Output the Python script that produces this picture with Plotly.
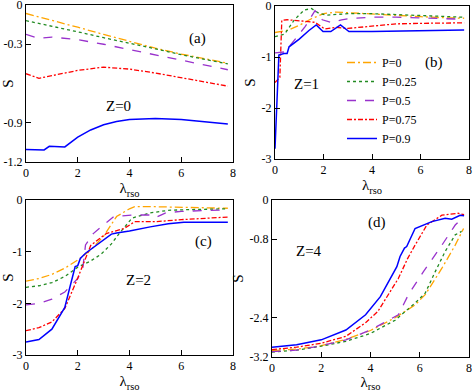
import plotly.graph_objects as go

# ---------------- data ----------------
labels = ["P=0", "P=0.25", "P=0.5", "P=0.75", "P=0.9"]
colors = ["#FFA500", "#228B22", "#9932CC", "#FF0000", "#0000FF"]
dashes = ["8px,3px,2px,3px", "dot", "dash", "5px,2px,2px,2px", "solid"]

# panel (a) Z=0
a_x0 = [0, 1, 2, 3, 4, 5, 6, 7, 7.8]
a_y0 = [-0.065, -0.115, -0.17, -0.225, -0.28, -0.33, -0.375, -0.415, -0.445]
a_x1 = [0, 1, 2, 3, 4, 5, 6, 7, 7.8]
a_y1 = [-0.12, -0.16, -0.205, -0.25, -0.29, -0.335, -0.38, -0.42, -0.45]
a_x2 = [0, 0.5, 1, 2, 3, 4, 5, 6, 7, 7.8]
a_y2 = [-0.225, -0.255, -0.245, -0.265, -0.3, -0.34, -0.38, -0.42, -0.46, -0.495]
a_x3 = [0, 0.25, 0.5, 1, 2, 3, 4, 5, 6, 7, 7.8]
a_y3 = [-0.525, -0.545, -0.56, -0.54, -0.5, -0.475, -0.49, -0.52, -0.555, -0.59, -0.62]
a_x4 = [0, 0.7, 0.9, 1.5, 2, 2.5, 3, 3.5, 4, 5, 6, 7, 7.8]
a_y4 = [-1.105, -1.108, -1.08, -1.085, -1.01, -0.955, -0.915, -0.89, -0.876, -0.868, -0.876, -0.893, -0.91]

# panel (b) Z=1
b_x0 = [0, 0.5, 1, 1.5, 2, 2.5, 3, 4, 5, 6, 7, 7.8]
b_y0 = [-0.52, -0.48, -0.38, -0.25, -0.15, -0.12, -0.13, -0.16, -0.19, -0.21, -0.23, -0.24]
b_x1 = [0, 0.4, 0.8, 1.2, 1.5, 1.8, 2.1, 2.6, 3, 4, 5, 6, 7, 7.8]
b_y1 = [-0.6, -0.55, -0.27, -0.08, -0.05, -0.14, -0.18, -0.16, -0.15, -0.15, -0.17, -0.19, -0.21, -0.22]
b_x2 = [0, 0.4, 0.8, 1.25, 1.65, 1.95, 2.35, 2.75, 3.2, 4, 5, 6, 7, 7.8]
b_y2 = [-0.92, -0.9, -0.67, -0.4, -0.09, -0.27, -0.33, -0.27, -0.24, -0.22, -0.22, -0.23, -0.25, -0.26]
b_x3 = [0, 0.2, 0.28, 0.5, 1.25, 1.65, 2.05, 2.5, 3, 4, 5, 6, 7, 7.8]
b_y3 = [-1.5, -1.4, -0.28, -0.27, -0.3, -0.32, -0.45, -0.42, -0.44, -0.39, -0.35, -0.34, -0.33, -0.33]
b_x4 = [0, 0.16, 0.37, 0.5, 0.58, 1.0, 1.4, 1.7, 1.98, 2.3, 2.7, 3.05, 4, 5, 6, 7, 7.8]
b_y4 = [-2.8, -0.96, -0.93, -0.93, -0.8, -0.65, -0.48, -0.37, -0.5, -0.5, -0.37, -0.5, -0.5, -0.49, -0.48, -0.48, -0.47]

# panel (c) Z=2
c_x0 = [0, 0.5, 1, 1.5, 2, 2.5, 3, 3.5, 4, 4.2, 5, 6, 7, 7.8]
c_y0 = [-1.57, -1.52, -1.44, -1.32, -1.16, -0.97, -0.7, -0.32, -0.17, -0.13, -0.13, -0.14, -0.15, -0.16]
c_x1 = [0, 0.5, 1, 1.5, 2, 2.5, 2.9, 3.3, 3.6, 4.1, 4.8, 5.5, 6, 7, 7.8]
c_y1 = [-1.69, -1.66, -1.6, -1.48, -1.3, -1.18, -1.05, -0.85, -0.65, -0.35, -0.25, -0.2, -0.19, -0.18, -0.17]
c_x2 = [0, 0.5, 1, 1.5, 2, 2.2, 2.3, 2.6, 2.9, 3.4, 4.1, 4.8, 5.0, 5.4, 6, 7, 7.8]
c_y2 = [-2.03, -2.0, -1.92, -1.78, -1.52, -1.3, -0.87, -0.65, -0.52, -0.32, -0.29, -0.29, -0.34, -0.25, -0.22, -0.2, -0.19]
c_x3 = [0, 0.5, 1, 1.5, 2, 2.5, 3.1, 3.8, 4.2, 5, 6, 7, 7.8]
c_y3 = [-2.53, -2.47, -2.36, -2.1, -1.51, -0.88, -0.65, -0.55, -0.42, -0.42, -0.38, -0.35, -0.33]
c_x4 = [0, 0.5, 1, 1.3, 1.5, 1.7, 1.9, 2.0, 2.1, 2.3, 2.8, 3.3, 3.5, 4, 4.8, 5.5, 6.1, 7, 7.8]
c_y4 = [-2.75, -2.7, -2.5, -2.26, -2.08, -1.68, -1.29, -1.27, -1.13, -1.03, -0.85, -0.66, -0.64, -0.6, -0.52, -0.46, -0.43, -0.43, -0.43]

# panel (d) Z=4
d_x0 = [0, 1, 2, 3, 4, 5, 5.81, 6.22, 6.9, 7.44, 7.78]
d_y0 = [-3.07, -3.04, -2.97, -2.84, -2.66, -2.4, -2.14, -1.93, -1.39, -0.92, -0.58]
d_x1 = [0, 1, 2, 3, 4, 5, 5.81, 6.22, 6.63, 7.03, 7.44, 7.7]
d_y1 = [-3.1, -3.06, -2.98, -2.88, -2.72, -2.45, -2.1, -1.9, -1.46, -1.05, -0.71, -0.64]
d_x2 = [0, 1, 2, 3, 4, 5.13, 5.54, 6.15, 6.9, 7.44, 7.78]
d_y2 = [-3.09, -3.06, -2.97, -2.85, -2.65, -2.34, -1.93, -1.46, -0.92, -0.51, -0.34]
d_x3 = [0, 1, 2, 3, 3.8, 4.3, 5.13, 5.5, 5.81, 6.29, 6.9, 7.56, 7.8]
d_y3 = [-3.05, -3.0, -2.92, -2.78, -2.5, -2.27, -1.6, -1.2, -0.92, -0.51, -0.31, -0.27, -0.3]
d_x4 = [0, 1, 2, 3, 3.8, 4.4, 5.07, 5.2, 5.38, 5.47, 5.81, 5.95, 6.49, 7.03, 7.3, 7.64, 7.8]
d_y4 = [-3.0, -2.95, -2.85, -2.65, -2.34, -1.97, -1.36, -1.15, -0.98, -0.95, -0.58, -0.55, -0.44, -0.37, -0.39, -0.31, -0.32]

x_ticks = [0, 2, 4, 6, 8]
a_ticks = [-1.2, -0.9, -0.3, 0]
b_ticks = [-3, -2, -1, 0]
c_ticks = [-3, -2, -1, 0]
d_ticks = [-3.2, -2.4, -0.8, 0]

panels = [
    ("a", [(a_x0, a_y0), (a_x1, a_y1), (a_x2, a_y2), (a_x3, a_y3), (a_x4, a_y4)], [-1.2, 0], a_ticks),
    ("b", [(b_x0, b_y0), (b_x1, b_y1), (b_x2, b_y2), (b_x3, b_y3), (b_x4, b_y4)], [-3, 0], b_ticks),
    ("c", [(c_x0, c_y0), (c_x1, c_y1), (c_x2, c_y2), (c_x3, c_y3), (c_x4, c_y4)], [-3, 0], c_ticks),
    ("d", [(d_x0, d_y0), (d_x1, d_y1), (d_x2, d_y2), (d_x3, d_y3), (d_x4, d_y4)], [-3.2, 0], d_ticks),
]

W, H = 474, 392
def px_x(a, b):
    return [a / W, b / W]
def px_y(top, bot):
    return [1 - bot / H, 1 - top / H]

domains = {
    "a": (px_x(26, 233), px_y(5, 162)),
    "b": (px_x(275, 469), px_y(6, 159)),
    "c": (px_x(26, 233), px_y(200, 355)),
    "d": (px_x(272, 469), px_y(200, 357)),
}

FONT = "Liberation Serif"
fig = go.Figure()
layout = {}
for i, (name, series, yr, yt) in enumerate(panels):
    n = "" if i == 0 else str(i + 1)
    xa, ya = "x" + n, "y" + n
    for j, (xs, ys) in enumerate(series):
        fig.add_trace(go.Scatter(
            x=xs, y=ys, mode="lines", xaxis=xa, yaxis=ya,
            name=labels[j], showlegend=(name == "b"),
            line=dict(color=colors[j], dash=dashes[j], width=1.5 if j == 4 else 1.3),
        ))
    dx, dy = domains[name]
    axcommon = dict(showgrid=False, zeroline=False, showline=True, linecolor="black",
                    linewidth=1, mirror=True, ticks="inside", ticklen=5, tickcolor="black",
                    automargin=False, ticklabeloverflow="allow",
                    tickfont=dict(family=FONT, size=12, color="black"))
    layout["xaxis" + n] = dict(axcommon, domain=dx, range=[0, 8], tickvals=x_ticks,
                               anchor=ya,
                               title=dict(text="λ<sub>rso</sub>", font=dict(family=FONT, size=15, color="black"), standoff=2))
    layout["yaxis" + n] = dict(axcommon, domain=dy, range=yr, tickvals=yt,
                               ticktext=[str(v) for v in yt], anchor=xa,
                               title=dict(text="S", font=dict(family=FONT, size=15, color="black"), standoff=2))

ann_specs = [
    ("(a)", 197, 28), ("Z=0", 104, 96),
    ("(b)", 445, 52), ("Z=1", 306, 74),
    ("(c)", 203, 241), ("Z=2", 124, 290),
    ("(d)", 388, 222), ("Z=4", 309, 251),
]
annotations = [dict(text=t, x=x / W, y=1 - y / H, xref="paper", yref="paper", showarrow=False,
                    font=dict(family=FONT, size=15, color="black")) for t, x, y in ann_specs]

fig.update_layout(
    **layout,
    width=W, height=H,
    margin=dict(l=0, r=0, t=0, b=0, autoexpand=False),
    paper_bgcolor="white", plot_bgcolor="white",
    annotations=annotations,
    legend=dict(x=342 / W, y=1 - 48 / H, xanchor="left", yanchor="top",
                bgcolor="rgba(0,0,0,0)", font=dict(family=FONT, size=12, color="black"),
                tracegroupgap=0, itemwidth=30),
    font=dict(family=FONT, color="black"),
)

fig.write_html("out.html", config={"displayModeBar": False},
               post_script="document.body.style.margin='0';document.body.style.overflow='hidden';")
